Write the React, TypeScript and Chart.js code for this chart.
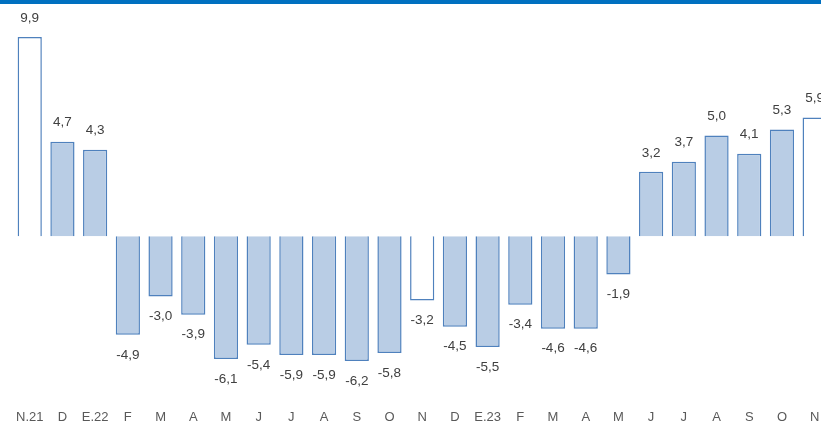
import React, { useEffect, useRef } from "react";
import { Chart, registerables } from "chart.js";
Chart.register(...registerables);

const categories = ["N.21","D","E.22","F","M","A","M","J","J","A","S","O","N","D","E.23","F","M","A","M","J","J","A","S","O","N"];
const values = [9.9,4.7,4.3,-4.9,-3.0,-3.9,-6.1,-5.4,-5.9,-5.9,-6.2,-5.8,-3.2,-4.5,-5.5,-3.4,-4.6,-4.6,-1.9,3.2,3.7,5.0,4.1,5.3,5.9];
const hollow = [0, 12, 24];

const labelPlugin = {
  id: "vlabels",
  afterDatasetsDraw(chart: any) {
    const ctx = chart.ctx;
    const meta = chart.getDatasetMeta(0);
    ctx.save();
    ctx.font = "13.5px 'Liberation Sans', sans-serif";
    ctx.fillStyle = "#404040";
    ctx.textAlign = "center";
    ctx.textBaseline = "middle";
    meta.data.forEach((el: any, i: number) => {
      const v = values[i];
      const y = v >= 0 ? el.y - 19 : el.y + 20;
      ctx.fillText(v.toFixed(1).replace(".", ","), el.x, y);
    });
    ctx.restore();
  },
};

export default function App() {
  const ref = useRef<HTMLCanvasElement>(null);
  useEffect(() => {
    const chart = new Chart(ref.current!, {
      type: "bar",
      data: {
        labels: categories,
        datasets: [{
          data: values,
          backgroundColor: values.map((_, i) => (hollow.includes(i) ? "#ffffff" : "#b9cde5")),
          borderColor: "#4f81bd",
          borderWidth: 1.5,
          barPercentage: 0.74,
          categoryPercentage: 1,
        }],
      },
      options: {
        animation: false,
        responsive: false,
        layout: { padding: { top: 0, bottom: 3, left: 0, right: 0 } },
        plugins: { legend: { display: false }, tooltip: { enabled: false } },
        scales: {
          x: {
            grid: { display: false, drawTicks: false },
            border: { display: false },
            ticks: { color: "#595959", font: { size: 13, family: "'Liberation Sans', sans-serif" }, padding: 10, autoSkip: false, maxRotation: 0 },
          },
          y: { display: false, min: -8.11, max: 11.74 },
        },
      },
      plugins: [labelPlugin],
    });
    return () => chart.destroy();
  }, []);
  return (
    <div style={{ position: "absolute", left: 0, top: 0, width: 821, height: 425, overflow: "hidden", background: "#fff" }}>
      <canvas ref={ref} width={825} height={438} style={{ position: "absolute", left: 6, top: 0 }} />
      <div style={{ position: "absolute", left: 0, top: 0, width: 821, height: 4, background: "#0070c0" }} />
    </div>
  );
}
